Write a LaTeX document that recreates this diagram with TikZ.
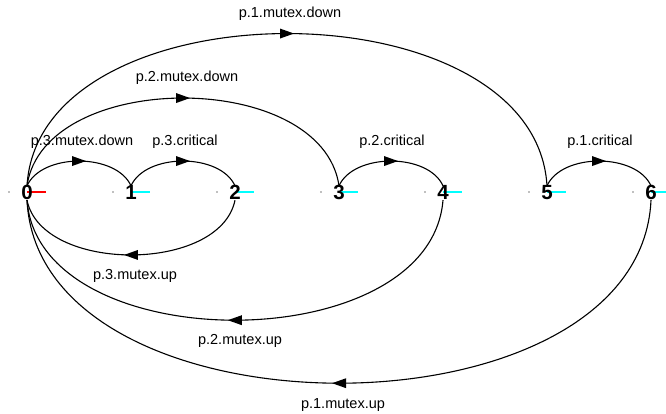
\documentclass[tikz,border=0pt]{standalone}
\usepackage{fontspec}
\setmainfont{Liberation Sans}
\usetikzlibrary{decorations.markings}
\definecolor{stubcyan}{RGB}{0,255,255}
\definecolor{stubred}{RGB}{255,0,0}
\begin{document}
\begin{tikzpicture}[x=1pt,y=-1pt,
  state/.style={inner sep=0pt,text height=14pt,text depth=0pt,
    font=\fontsize{20.5}{20}\selectfont\bfseries},
  lbl/.style={inner sep=0pt,font=\fontsize{14.5}{16}\selectfont},
  trans/.style={line width=1.1pt,postaction={decorate},
    decoration={markings,mark=at position 0.5 with
      {\fill (7pt,0pt) -- (-7pt,5pt) -- (-7pt,-5pt) -- cycle;}}},
  stub/.style={line width=1pt},
  pin/.style={fill=gray}]
\useasboundingbox (0,0) rectangle (666,414);

% entry stubs and markers of the states
\foreach \i/\c in {0/stubred,1/stubcyan,2/stubcyan,3/stubcyan,4/stubcyan,5/stubcyan,6/stubcyan}{
  \pgfmathsetmacro\xx{27+104*\i}
  \fill[pin] (\xx-18,192) circle (0.8);
  \draw[stub,\c] (\xx,192) -- (\xx+19,192);
}

% states
\foreach \i in {0,...,6}{
  \pgfmathsetmacro\xx{27+104*\i}
  \node[state] (n\i) at (\xx,193) {\i};
}

% transitions above the states
\draw[trans] (n0.north) .. controls +(15,-33) and +(-15,-33) .. (n1.north);
\draw[trans] (n1.north) .. controls +(15,-33) and +(-15,-33) .. (n2.north);
\draw[trans] (n3.north) .. controls +(15,-33) and +(-15,-33) .. (n4.north);
\draw[trans] (n5.north) .. controls +(15,-33) and +(-15,-33) .. (n6.north);
\draw[trans] (n0.north) .. controls +(17,-117) and +(-17,-117) .. (n3.north);
\draw[trans] (n0.north) .. controls +(12,-203) and +(-12,-203) .. (n5.north);

% transitions below the states
\draw[trans] (n2.south) .. controls +(-15,73) and +(15,73) .. (n0.south);
\draw[trans] (n4.south) .. controls +(-13,160) and +(12,160) .. (n0.south);
\draw[trans] (n6.south) .. controls +(-11,244) and +(12,244) .. (n0.south);

% transition labels
\node[lbl] (l1) at (82,142) {p.3.mutex.down};
\node[lbl] (l2) at (185,142) {p.3.critical};
\node[lbl] (l3) at (187,78) {p.2.mutex.down};
\node[lbl] (l4) at (392,142) {p.2.critical};
\node[lbl] (l5) at (290,14) {p.1.mutex.down};
\node[lbl] (l6) at (600,142) {p.1.critical};
\node[lbl] (l7) at (135,276) {p.3.mutex.up};
\node[lbl] (l8) at (240,341) {p.2.mutex.up};
\node[lbl] (l9) at (343,405) {p.1.mutex.up};
\end{tikzpicture}
\end{document}
